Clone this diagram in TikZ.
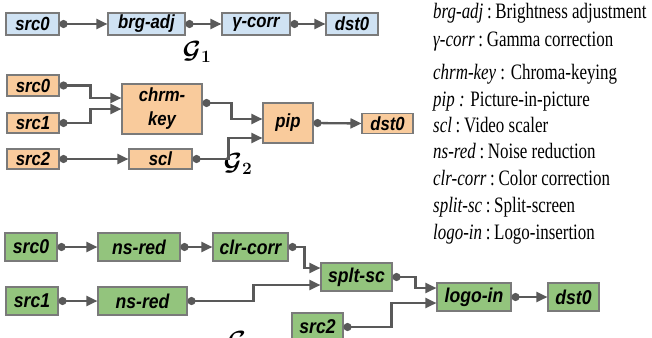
\documentclass[tikz,border=0pt]{standalone}
\usepackage{fontspec}
\usepackage{bm}
\usetikzlibrary{arrows.meta,calc}
\newfontfamily\boxfont[FakeStretch=0.88]{Liberation Sans}
\newfontfamily\legfont[FakeStretch=0.77]{Liberation Serif}
\definecolor{blueF}{HTML}{CFE2F3}
\definecolor{orangeF}{HTML}{F9CB9C}
\definecolor{greenF}{HTML}{93C47D}
\definecolor{edgeC}{HTML}{7A7A7A}
\definecolor{lineC}{HTML}{595959}
\newcommand\grlab[1]{\ensuremath{\bm{\mathcal{G}}_{\bm{#1}}}}
\begin{document}
\begin{tikzpicture}[x=1pt,y=-1pt,
  bx/.style={draw=edgeC, line width=1.1pt, inner sep=0pt, align=center,
    font=\boxfont\bfseries\itshape\fontsize{19}{19}\selectfont},
  bl/.style={bx, fill=blueF, minimum height=22pt},
  og/.style={bx, fill=orangeF, minimum height=20pt},
  gr/.style={bx, fill=greenF, minimum height=28pt, font=\boxfont\bfseries\itshape\fontsize{20}{20}\selectfont},
  conn/.style={draw=lineC, line width=2.3pt, {Circle[length=8pt]}-{Triangle[length=11pt,width=10pt]}},
  leg/.style={anchor=base west, inner sep=0pt, font=\legfont\fontsize{22}{22}\selectfont},
  glab/.style={inner sep=0pt, font=\fontsize{24}{24}\selectfont}]
\path[use as bounding box, clip] (0,0) rectangle (652,337);

% ---------- G1 ----------
\node[bl, minimum width=53pt] (a0) at (32.5,24) {src0};
\node[bl, minimum width=77pt] (a1) at (146.5,24) {brg-adj};
\node[bl, minimum width=68pt] (a2) at (256,24) {γ-corr};
\node[bl, minimum width=52pt] (a3) at (352,24) {dst0};
\node[glab] (g1) at (197,52) {\grlab{1}};
\draw[conn] (a0.east) -- (a1.west);
\draw[conn] (a1.east) -- (a2.west);
\draw[conn] (a2.east) -- (a3.west);

% ---------- G2 ----------
\node[og, minimum width=52pt, minimum height=21pt] (b0) at (33,85.5) {src0};
\node[og, minimum width=52pt] (b1) at (33,123) {src1};
\node[og, minimum width=52pt] (b2) at (33,159) {src2};
\node[og, minimum width=80pt, minimum height=50pt, font=\boxfont\bfseries\itshape\fontsize{19}{24}\selectfont] (bk) at (162,109) {chrm-\\key};
\node[og, minimum width=63pt] (bs) at (160.5,159) {scl};
\node[og, minimum width=50pt, minimum height=40pt] (bp) at (288,123) {pip};
\node[og, minimum width=51pt] (bd) at (387.5,123.5) {dst0};
\node[glab] (g2) at (238,164) {\grlab{2}};
\draw[conn] (b0.east) -- ++(31,0) |- ([yshift=11pt]bk.west);
\draw[conn] (b1.east) -- ++(31,0) |- (bk.west);
\draw[conn] (b2.east) -- (bs.west);
\draw[conn] ([yshift=6pt]bk.east) -- ++(29,0) |- ([yshift=4pt]bp.west);
\draw[conn] (bs.east) -- ++(36,0) |- ([yshift=-15pt]bp.west);
\draw[conn] (bp.east) -- (bd.west);

% ---------- G3 ----------
\node[gr, minimum width=52pt] (c0) at (31,247) {src0};
\node[gr, minimum width=82pt] (c1) at (139,247) {ns-red};
\node[gr, minimum width=75pt] (c2) at (250.5,247) {clr-corr};
\node[gr, minimum width=52pt] (c3) at (32,301) {src1};
\node[gr, minimum width=89pt] (c4) at (142.5,301) {ns-red};
\node[gr, minimum width=71pt] (c5) at (356.5,277) {splt-sc};
\node[gr, minimum width=74pt] (c6) at (474,297) {logo-in};
\node[gr, minimum width=51pt] (c7) at (573.5,297) {dst0};
\node[gr, minimum width=51pt] (c8) at (317.5,327) {src2};
\node[glab] (g3) at (242,342) {\grlab{3}};
\draw[conn] (c0.east) -- (c1.west);
\draw[conn] (c1.east) -- (c2.west);
\draw[conn] (c2.east) -- ++(16,0) |- ([yshift=9pt]c5.west);
\draw[conn] (c3.east) -- (c4.west);
\draw[conn] (c4.east) -- ++(66,0) |- ([yshift=-8pt]c5.west);
\draw[conn] (c5.east) -- ++(23,0) |- ([yshift=9pt]c6.west);
\draw[conn] (c8.east) -- ++(48,0) |- ([yshift=-6pt]c6.west);
\draw[conn] (c6.east) -- (c7.west);

% ---------- legend ----------
\node[leg] (l1) at (433,19) {\textit{brg-adj}\,:\,Brightness adjustment};
\node[leg] (l2) at (433,46) {\textit{γ-corr}\,:\,Gamma correction};
\node[leg] (l3) at (433,79) {\textit{chrm-key} : Chroma-keying};
\node[leg] (l4) at (433,106) {\textit{pip :} Picture-in-picture};
\node[leg] (l5) at (433,132) {\textit{scl}\,:\,Video scaler};
\node[leg] (l6) at (433,158) {\textit{ns-red}\,:\,Noise reduction};
\node[leg] (l7) at (433,185) {\textit{clr-corr}\,:\,Color correction};
\node[leg] (l8) at (433,212) {\textit{split-sc}\,:\,Split-screen};
\node[leg] (l9) at (433,239) {\textit{logo-in}\,:\,Logo-insertion};
\end{tikzpicture}
\end{document}
